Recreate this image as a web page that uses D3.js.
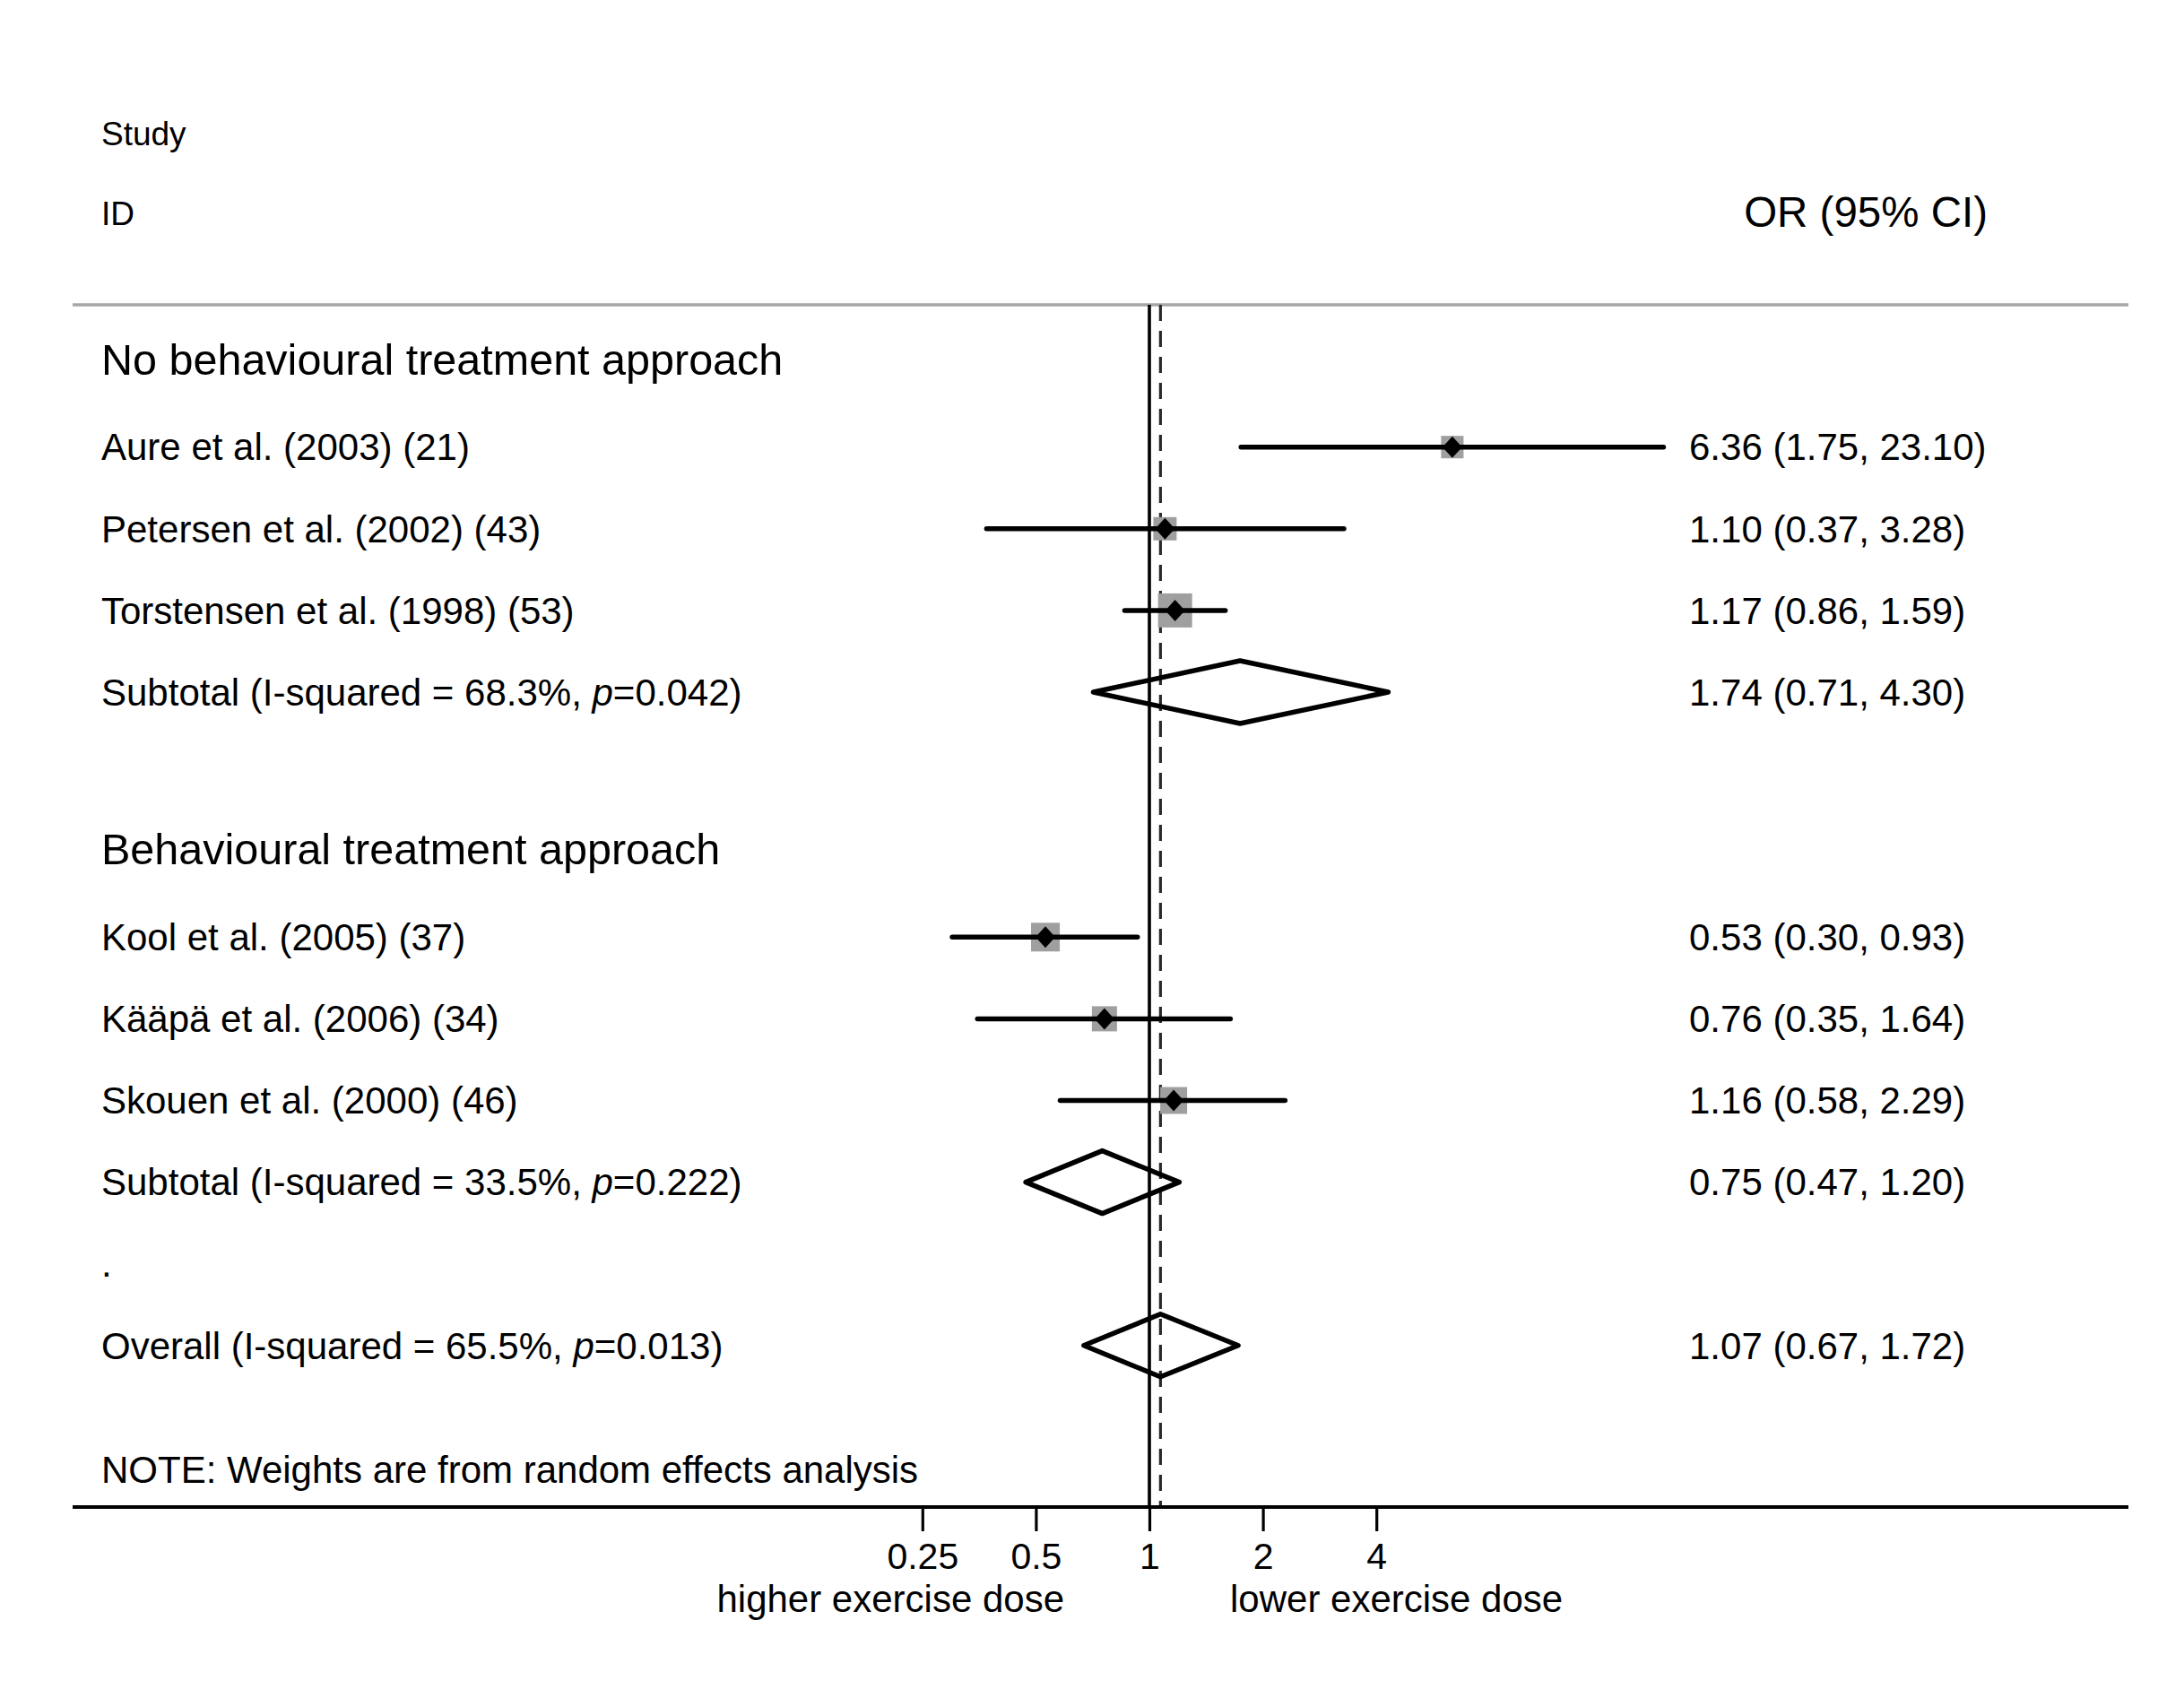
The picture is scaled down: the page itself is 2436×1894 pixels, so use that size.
<!DOCTYPE html>
<html>
<head>
<meta charset="utf-8">
<script src="https://cdn.jsdelivr.net/npm/d3@7"></script>
<style>
  html, body { margin: 0; padding: 0; background: #fff; }
  svg { display: block; font-family: "Liberation Sans", Arial, Helvetica, sans-serif; }
</style>
</head>
<body>
<script>
// ---------------- data ----------------
const studyLabels = [
  "Aure et al. (2003) (21)",
  "Petersen et al. (2002) (43)",
  "Torstensen et al. (1998) (53)",
  "Kool et al. (2005) (37)",
  "Kääpä et al. (2006) (34)",
  "Skouen et al. (2000) (46)"
];
const studyGroup = [0, 0, 0, 1, 1, 1];
const studyOR  = [6.36, 1.10, 1.17, 0.53, 0.76, 1.16];
const studyLo  = [1.75, 0.37, 0.86, 0.30, 0.35, 0.58];
const studyHi  = [23.10, 3.28, 1.59, 0.93, 1.64, 2.29];
const studyWeight = [11.5, 12.4, 26.5, 18.8, 14.4, 16.5]; // % weight
const studyRow = [0, 1, 2, 6, 7, 8];

const groupNames = ["No behavioural treatment approach", "Behavioural treatment approach"];
const groupRow = [-1, 5];

const pooledLabels = [
  ["Subtotal (I-squared = 68.3%, ", "p", "=0.042)"],
  ["Subtotal (I-squared = 33.5%, ", "p", "=0.222)"],
  ["Overall (I-squared = 65.5%, ", "p", "=0.013)"]
];
const pooledOR = [1.74, 0.75, 1.07];
const pooledLo = [0.71, 0.47, 0.67];
const pooledHi = [4.30, 1.20, 1.72];
const pooledRow = [3, 9, 11];

const blankRow = 10;
const tickValues = [0.25, 0.5, 1, 2, 4];
const tickLabels = ["0.25", "0.5", "1", "2", "4"];
const leftAxisTitle = "higher exercise dose";
const rightAxisTitle = "lower exercise dose";
const noteText = "NOTE: Weights are from random effects analysis";

// ---------------- layout ----------------
const W = 2436, H = 1894;
const plotLeft = 81, plotRight = 2374;
const ruleY = 340, axisY = 1681;
const labelX = 113, valueX = 1884;

const svg = d3.select("body").append("svg").attr("width", W).attr("height", H);
svg.append("rect").attr("width", W).attr("height", H).attr("fill", "#fff");

const x = d3.scaleLog().domain([0.25, 4]).range([1028.8, 1535.2]);
const y = d3.scaleLinear().domain([0, 11]).range([498.7, 1500.8]);
const boxSide = d3.scaleSqrt().domain([0, 26.5]).range([0, 38]);
const fmt = d3.format(".2f");

// header texts
svg.append("text").attr("x", labelX).attr("y", 149).attr("dy", "0.35em")
  .attr("font-size", 37).text("Study");
svg.append("text").attr("x", labelX).attr("y", 238).attr("dy", "0.35em")
  .attr("font-size", 37).text("ID");
svg.append("text").attr("x", 2217).attr("y", 236).attr("dy", "0.35em")
  .attr("text-anchor", "end").attr("font-size", 47.5).text("OR (95% CI)");

// header rule
svg.append("line").attr("x1", plotLeft).attr("x2", plotRight)
  .attr("y1", ruleY).attr("y2", ruleY)
  .attr("stroke", "#a6a6a6").attr("stroke-width", 3.5);

// null line & overall dashed line
svg.append("line").attr("x1", x(1)).attr("x2", x(1))
  .attr("y1", ruleY).attr("y2", axisY)
  .attr("stroke", "#000").attr("stroke-width", 3.6);
svg.append("line").attr("x1", x(pooledOR[2])).attr("x2", x(pooledOR[2]))
  .attr("y1", ruleY).attr("y2", axisY)
  .attr("stroke", "#2a2a2a").attr("stroke-width", 3.2)
  .attr("stroke-dasharray", "18 11");

// group headings
svg.selectAll("text.group").data(groupNames).join("text")
  .attr("class", "group")
  .attr("x", labelX).attr("y", (d, i) => y(groupRow[i]) - 7).attr("dy", "0.35em")
  .attr("font-size", 48.5).text(d => d);

// study labels
svg.selectAll("text.study").data(studyLabels).join("text")
  .attr("class", "study")
  .attr("x", labelX).attr("y", (d, i) => y(studyRow[i])).attr("dy", "0.35em")
  .attr("font-size", 42).text(d => d);

// study value labels
svg.selectAll("text.sval").data(studyOR).join("text")
  .attr("class", "sval")
  .attr("x", valueX).attr("y", (d, i) => y(studyRow[i])).attr("dy", "0.35em")
  .attr("font-size", 42)
  .text((d, i) => `${fmt(d)} (${fmt(studyLo[i])}, ${fmt(studyHi[i])})`);

// pooled labels
const pl = svg.selectAll("text.pooled").data(pooledLabels).join("text")
  .attr("class", "pooled")
  .attr("x", labelX).attr("y", (d, i) => y(pooledRow[i])).attr("dy", "0.35em")
  .attr("font-size", 42);
pl.append("tspan").text(d => d[0]);
pl.append("tspan").attr("font-style", "italic").text(d => d[1]);
pl.append("tspan").text(d => d[2]);

svg.selectAll("text.pval").data(pooledOR).join("text")
  .attr("class", "pval")
  .attr("x", valueX).attr("y", (d, i) => y(pooledRow[i])).attr("dy", "0.35em")
  .attr("font-size", 42)
  .text((d, i) => `${fmt(d)} (${fmt(pooledLo[i])}, ${fmt(pooledHi[i])})`);

// blank-row dot
svg.append("text").attr("x", labelX).attr("y", y(blankRow)).attr("dy", "0.35em")
  .attr("font-size", 42).text(".");

// weight boxes
svg.selectAll("rect.box").data(studyOR).join("rect")
  .attr("class", "box")
  .attr("x", (d, i) => x(d) - boxSide(studyWeight[i]) / 2)
  .attr("y", (d, i) => y(studyRow[i]) - boxSide(studyWeight[i]) / 2)
  .attr("width", (d, i) => boxSide(studyWeight[i]))
  .attr("height", (d, i) => boxSide(studyWeight[i]))
  .attr("fill", "#9f9f9f");

// CI lines
svg.selectAll("line.ci").data(studyOR).join("line")
  .attr("class", "ci")
  .attr("x1", (d, i) => x(studyLo[i])).attr("x2", (d, i) => x(studyHi[i]))
  .attr("y1", (d, i) => y(studyRow[i])).attr("y2", (d, i) => y(studyRow[i]))
  .attr("stroke", "#000").attr("stroke-width", 5.5).attr("stroke-linecap", "round");

// point-estimate diamonds
svg.selectAll("path.pt").data(studyOR).join("path")
  .attr("class", "pt")
  .attr("d", (d, i) => {
    const cx = x(d), cy = y(studyRow[i]);
    return `M${cx - 11},${cy}L${cx},${cy - 12}L${cx + 11},${cy}L${cx},${cy + 12}Z`;
  })
  .attr("fill", "#000");

// pooled diamonds
svg.selectAll("path.pool").data(pooledOR).join("path")
  .attr("class", "pool")
  .attr("d", (d, i) => {
    const cy = y(pooledRow[i]), h = 35;
    return `M${x(pooledLo[i])},${cy}L${x(d)},${cy - h}L${x(pooledHi[i])},${cy}L${x(d)},${cy + h}Z`;
  })
  .attr("fill", "none").attr("stroke", "#000").attr("stroke-width", 5.5)
  .attr("stroke-linejoin", "round");

// note
svg.append("text").attr("x", labelX).attr("y", 1639).attr("dy", "0.35em")
  .attr("font-size", 42).text(noteText);

// axis
svg.append("line").attr("x1", plotLeft).attr("x2", plotRight)
  .attr("y1", axisY).attr("y2", axisY)
  .attr("stroke", "#000").attr("stroke-width", 3.8);

const axis = d3.axisBottom(x)
  .tickValues(tickValues)
  .tickFormat((d, i) => tickLabels[i])
  .tickSize(27).tickPadding(13);
const ag = svg.append("g").attr("transform", `translate(0,${axisY})`).call(axis);
ag.select(".domain").remove();
ag.selectAll(".tick line").attr("stroke", "#000").attr("stroke-width", 3.2);
ag.selectAll(".tick text").attr("fill", "#000").attr("font-size", 41)
  .attr("font-family", "'Liberation Sans', Arial, sans-serif");

svg.append("text").attr("x", x(1) - 95).attr("y", 1798)
  .attr("text-anchor", "end").attr("font-size", 42).text(leftAxisTitle);
svg.append("text").attr("x", x(1) + 90).attr("y", 1798)
  .attr("text-anchor", "start").attr("font-size", 42).text(rightAxisTitle);
</script>
</body>
</html>
